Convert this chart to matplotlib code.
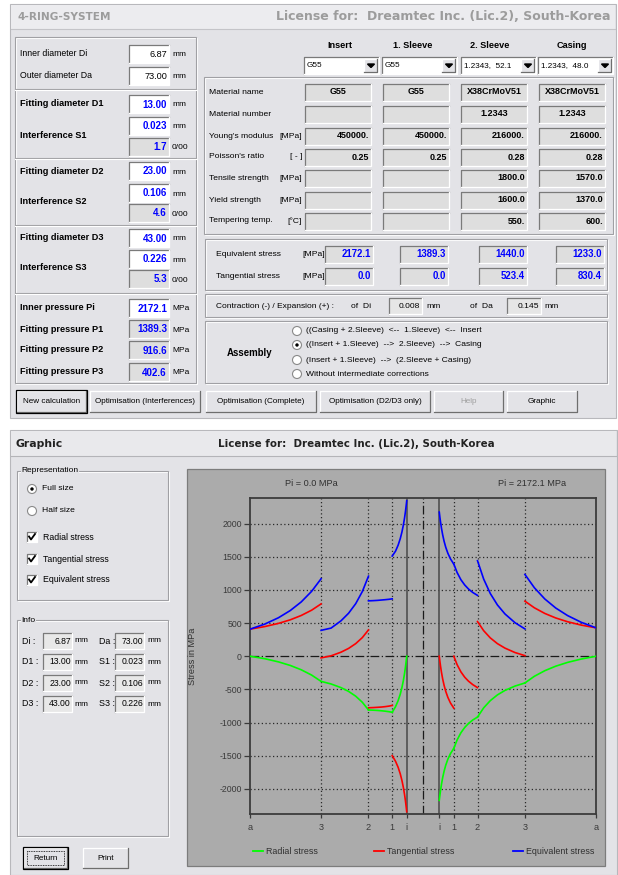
import numpy as np
import matplotlib
matplotlib.use("Agg")
import matplotlib.pyplot as plt
from matplotlib.patches import Rectangle, Circle, Polygon

plt.rcParams["font.family"] = ["Liberation Sans", "DejaVu Sans"]

# ===== INPUT / RESULT VALUES =====
di, da = 6.87, 73.00
fit_diam = [13.00, 23.00, 43.00]
interference = [0.023, 0.106, 0.226]
interf_permille = [1.7, 4.6, 5.3]
inner_pressure = 2172.1
fit_pressure = [1389.3, 916.6, 402.6]

ring_names = ["Insert", "1. Sleeve", "2. Sleeve", "Casing"]
combo_text = ["G55", "G55", "1.2343,  52.1", "1.2343,  48.0"]
mat_labels = ["Material name", "Material number", "Young's modulus", "Poisson's ratio",
              "Tensile strength", "Yield strength", "Tempering temp."]
mat_units = ["", "", "[MPa]", "[ - ]", "[MPa]", "[MPa]", "[°C]"]
mat_values = [["G55", "G55", "X38CrMoV51", "X38CrMoV51"],
              ["", "", "1.2343", "1.2343"],
              ["450000.", "450000.", "216000.", "216000."],
              ["0.25", "0.25", "0.28", "0.28"],
              ["", "", "1800.0", "1570.0"],
              ["", "", "1600.0", "1370.0"],
              ["", "", "550.", "600."]]
equiv_at_inner = [2172.1, 1389.3, 1440.0, 1233.0]
tang_at_inner = [0.0, 0.0, 523.4, 830.4]
expansion_di, expansion_da = 0.008, 0.145

# ===== STRESS CURVES (radius in mm, stress in MPa) =====
r_insert = [3.435, 3.55, 3.7, 3.9, 4.15, 4.45, 4.8, 5.25, 5.8, 6.5]
r_sleeve1 = [6.5, 7.2, 8.0, 8.8, 9.6, 10.5, 11.5]
r_sleeve2 = [11.5, 12.8, 14.2, 15.7, 17.3, 19.4, 21.5]
r_casing = [21.5, 23.5, 25.7, 28.0, 30.5, 33.4, 36.5]
r_rings = [r_insert, r_sleeve1, r_sleeve2, r_casing]

# left half: Pi = 0.0 MPa
radial_0 = [[0, -74, -162, -263, -369, -473, -572, -670, -761, -845],
            [-845, -836, -828, -822, -817, -813, -810],
            [-810, -694, -602, -530, -473, -418, -379],
            [-379, -284, -204, -139, -85, -37, 0]]
tang_0 = [[-2344, -2270, -2182, -2081, -1975, -1871, -1772, -1674, -1583, -1499],
          [-742, -752, -760, -766, -770, -774, -777],
          [397, 281, 190, 118, 61, 6, -25],
          [789, 694, 614, 549, 495, 447, 408]]
equiv_0 = [[2344, 2270, 2182, 2081, 1975, 1871, 1772, 1674, 1583, 1510],
           [865, 858, 852, 847, 842, 838, 835],
           [1207, 975, 792, 648, 534, 424, 390],
           [1168, 978, 818, 689, 580, 484, 408]]

# right half: Pi = 2172.1 MPa
radial_1 = [[-2172, -2103, -2022, -1929, -1830, -1733, -1642, -1551, -1467, -1389],
            [-1389, -1261, -1153, -1074, -1013, -961, -917],
            [-917, -778, -669, -583, -515, -450, -403],
            [-403, -302, -218, -150, -93, -42, 0]]
tang_1 = [[0, -69, -150, -244, -342, -439, -530, -621, -705, -783],
          [0, -128, -236, -316, -376, -428, -473],
          [523, 385, 276, 190, 122, 56, 9],
          [830, 730, 645, 577, 520, 469, 428]]
equiv_1 = [[2172, 2103, 2022, 1929, 1830, 1733, 1642, 1551, 1467, 1389],
           [1389, 1261, 1153, 1074, 1013, 961, 917],
           [1440, 1163, 945, 773, 637, 506, 412],
           [1233, 1032, 863, 727, 613, 511, 428]]

diam_marks = [di, fit_diam[0], fit_diam[1], fit_diam[2], da]
diam_labels = ["i", "1", "2", "3", "a"]
y_ticks = [-2000, -1500, -1000, -500, 0, 500, 1000, 1500, 2000]

BG = "#e3e3e7"
PANEL = "#ababab"
GREEN, RED, BLUE = "#00ff00", "#ff0000", "#0000ff"
FS = 6.3      # normal GUI text
FSB = 6.6     # bold GUI text

fig = plt.figure(figsize=(6.18, 8.75), dpi=100)
fig.patch.set_facecolor("white")
bg = fig.add_axes([0, 0, 1, 1])
bg.set_xlim(0, 618)
bg.set_ylim(875, 0)
bg.axis("off")


def rect(x, y, w, h, face, edge="none", lw=0.8, z=1, ls="-"):
    bg.add_patch(Rectangle((x, y), w, h, facecolor=face, edgecolor=edge, linewidth=lw, zorder=z, linestyle=ls))


def sunken(x, y, w, h, face="white"):
    rect(x, y, w, h, face)
    bg.plot([x, x, x + w], [y + h, y, y], color="#7a7a7a", lw=0.9, zorder=2)
    bg.plot([x, x + w, x + w], [y + h, y + h, y], color="#ffffff", lw=0.9, zorder=2)


def raised(x, y, w, h, default=False):
    rect(x, y, w, h, BG, z=2)
    bg.plot([x, x, x + w], [y + h, y, y], color="#ffffff", lw=0.9, zorder=3)
    bg.plot([x, x + w, x + w], [y + h, y + h, y], color="#6e6e6e", lw=0.9, zorder=3)
    if default:
        rect(x - 1, y - 1, w + 2, h + 2, "none", "#000000", 0.9, 3)


def etched(x, y, w, h):
    rect(x + 1, y + 1, w, h, "none", "#ffffff", 0.8)
    rect(x, y, w, h, "none", "#a0a0a4", 0.8)


def hsep(x0, x1, y):
    bg.plot([x0, x1], [y, y], color="#a0a0a4", lw=0.8, zorder=2)
    bg.plot([x0, x1], [y + 1, y + 1], color="#ffffff", lw=0.8, zorder=2)


def txt(x, y, s, size=FS, bold=False, color="black", ha="left", **kw):
    bg.text(x, y, s, fontsize=size, fontweight="bold" if bold else "normal",
            color=color, ha=ha, va="center", zorder=5, **kw)


def radio(x, y, on):
    bg.add_patch(Circle((x, y), 4.5, facecolor="white", edgecolor="#8a8a8a", lw=0.8, zorder=3))
    if on:
        bg.add_patch(Circle((x, y), 1.7, facecolor="black", zorder=4))


def check(x, y):
    sunken(x - 5, y - 5, 10, 10, "white")
    bg.plot([x - 3, x - 1, x + 3], [y - 0.5, y + 2.5, y - 3], color="black", lw=1.3, zorder=4)


def combo(x, y, w, h, s):
    sunken(x, y, w, h, "white")
    raised(x + w - 15, y + 2, 13, h - 4)
    cy = y + h / 2
    bg.add_patch(Polygon([[x + w - 11.5, cy - 1.5], [x + w - 4.5, cy - 1.5], [x + w - 8, cy + 2]],
                         closed=True, color="black", zorder=4))
    txt(x + 3, cy, s, size=5.9)


def button(x, y, w, h, s, default=False, disabled=False, focus=False):
    raised(x, y, w, h, default)
    txt(x + w / 2, y + h / 2, s, size=5.9, ha="center", color="#a0a0a0" if disabled else "black")
    if focus:
        rect(x + 3, y + 3, w - 6, h - 6, "none", "#000000", 0.6, 4, ls=(0, (1, 1)))


# ===== TOP WINDOW =====
rect(10, 4, 606, 414, BG, "#b8b8bc")
rect(11, 5, 604, 24, "#ececef")
bg.plot([11, 615], [29, 29], color="#c4c4c8", lw=0.8)
txt(17, 17, "4-RING-SYSTEM", size=7.6, bold=True, color="#9c9c9c", family="DejaVu Sans")
txt(611, 17, "License for:  Dreamtec Inc. (Lic.2), South-Korea", size=9.0, bold=True,
    color="#9c9c9c", ha="right", family="DejaVu Sans")

etched(15, 37, 181, 346)
for ys in [89, 158, 225, 293]:
    hsep(15, 196, ys)

BX, BW, BH = 129, 40, 18


def entry(yc, value, face="white", color="black", bold=False, unit="mm"):
    sunken(BX, yc - BH / 2, BW, BH, face)
    txt(BX + BW - 2, yc + 0.5, value, bold=bold, color=color, ha="right", size=7.0 if bold else 6.6)
    txt(BX + BW + 3, yc + 1, unit, size=6.0)


txt(20, 54, "Inner diameter Di")
entry(54, f"{di:.2f}")
txt(20, 76, "Outer diameter Da")
entry(76, f"{da:.2f}")
rows_y = [(104, 125.5, 135, 146.5), (171, 193, 202, 213), (238, 259, 268, 279)]
for k, (yd, ys, yl, yp) in enumerate(rows_y):
    txt(20, yd, f"Fitting diameter D{k + 1}", bold=True, size=FSB)
    entry(yd, f"{fit_diam[k]:.2f}", color=BLUE, bold=True)
    entry(ys, f"{interference[k]:.3f}", color=BLUE, bold=True)
    txt(20, yl, f"Interference S{k + 1}", bold=True, size=FSB)
    entry(yp, f"{interf_permille[k]:.1f}", face="#dedede", color=BLUE, bold=True, unit="0/00")
txt(20, 308, "Inner pressure Pi", bold=True, size=FSB)
entry(308, f"{inner_pressure:.1f}", color=BLUE, bold=True, unit="MPa")
for k, yc in enumerate([329, 350, 372]):
    txt(20, yc, f"Fitting pressure P{k + 1}", bold=True, size=FSB)
    entry(yc, f"{fit_pressure[k]:.1f}", face="#dedede", color=BLUE, bold=True, unit="MPa")

# material columns
col_head_x = [340, 413, 490, 572]
combo_x = [304, 382, 461, 538]
for k in range(4):
    txt(col_head_x[k], 46, ring_names[k], bold=True, ha="center", size=FSB)
    combo(combo_x[k], 57, 75, 17, combo_text[k])

etched(204, 77, 409, 157)
cell_x = [305, 383, 461, 539]
row_y = [92, 114, 136, 157, 178, 200, 221]
for i, yc in enumerate(row_y):
    txt(209, yc, mat_labels[i], size=6.1)
    txt(302, yc, mat_units[i], size=6.1, ha="right")
    for k in range(4):
        sunken(cell_x[k], yc - 8.5, 66, 17, "#dedede")
        v = mat_values[i][k]
        if i < 2:
            txt(cell_x[k] + 33, yc, v, bold=True, ha="center", size=6.5)
        else:
            txt(cell_x[k] + 64, yc, v, bold=True, ha="right", size=6.5)

etched(205, 239, 402, 51)
st_x = [325, 400, 479, 556]
for yc, lab, vals in [(254, "Equivalent stress", equiv_at_inner), (276, "Tangential stress", tang_at_inner)]:
    txt(216, yc, lab, size=6.1)
    txt(302, yc, "[MPa]", size=6.1)
    for k in range(4):
        sunken(st_x[k], yc - 8.5, 48, 17, "#dedede")
        txt(st_x[k] + 46, yc, f"{vals[k]:.1f}", bold=True, color=BLUE, ha="right", size=6.9)

etched(205, 294, 402, 23)
txt(216, 306, "Contraction (-) / Expansion (+) :", size=6.0)
txt(351, 306, "of  Di", size=6.1)
sunken(389, 298, 33, 16, "#e6e6e6")
txt(420, 306, f"{expansion_di:.3f}", ha="right", size=6.1)
txt(426, 306, "mm", size=6.1)
txt(470, 306, "of  Da", size=6.1)
sunken(507, 298, 34, 16, "#e6e6e6")
txt(539, 306, f"{expansion_da:.3f}", ha="right", size=6.1)
txt(544, 306, "mm", size=6.1)

etched(205, 321, 402, 62)
txt(250, 353, "Assembly", bold=True, ha="center", size=6.9)
assembly_opts = ["((Casing + 2.Sleeve)  <--  1.Sleeve)  <--  Insert",
                 "((Insert + 1.Sleeve)  -->  2.Sleeve)  -->  Casing",
                 "(Insert + 1.Sleeve)  -->  (2.Sleeve + Casing)",
                 "Without intermediate corrections"]
for k, yc in enumerate([331, 345, 360, 374]):
    radio(297, yc, k == 1)
    txt(306, yc, assembly_opts[k], size=6.1)

button(17, 391, 69, 21, "New calculation", default=True)
button(90, 391, 110, 21, "Optimisation (Interferences)")
button(206, 391, 110, 21, "Optimisation (Complete)")
button(320, 391, 110, 21, "Optimisation (D2/D3 only)")
button(434, 391, 69, 21, "Help", disabled=True)
button(507, 391, 70, 21, "Graphic")

# ===== BOTTOM WINDOW =====
rect(10, 430, 607, 445, BG, "#b8b8bc")
rect(11, 431, 605, 25, "#e9e9ec")
bg.plot([11, 616], [456, 456], color="#b4b4b8", lw=0.8)
txt(15, 444, "Graphic", size=7.8, bold=True, color="#222222", family="DejaVu Sans")
txt(356, 444, "License for:  Dreamtec Inc. (Lic.2), South-Korea", size=7.4, bold=True,
    color="#222222", ha="center", family="DejaVu Sans")

etched(17, 471, 151, 129)
txt(21, 471, "Representation", size=6.0, bbox=dict(facecolor=BG, edgecolor="none", pad=0.3))
radio(32, 489, True)
txt(42, 489, "Full size", size=6.1)
radio(32, 511, False)
txt(42, 511, "Half size", size=6.1)
for yc, lab in [(537, "Radial stress"), (559, "Tangential stress"), (580, "Equivalent stress")]:
    check(32, yc)
    txt(43, yc, lab, size=6.3)

etched(17, 620, 151, 216)
txt(21, 620, "Info", size=6.0, bbox=dict(facecolor=BG, edgecolor="none", pad=0.3))
info_left = [("Di :", di, "{:.2f}"), ("D1 :", fit_diam[0], "{:.2f}"),
             ("D2 :", fit_diam[1], "{:.2f}"), ("D3 :", fit_diam[2], "{:.2f}")]
info_right = [("Da :", da, "{:.2f}"), ("S1 :", interference[0], "{:.3f}"),
              ("S2 :", interference[1], "{:.3f}"), ("S3 :", interference[2], "{:.3f}")]
for k, yc in enumerate([641, 662, 683, 704]):
    lab, v, f = info_left[k]
    txt(22, yc, lab, size=6.4)
    sunken(43, yc - 8, 29, 16, "#e8e8e8")
    txt(71, yc, f.format(v), ha="right", size=6.2)
    txt(74, yc, "mm", size=6.0)
    lab, v, f = info_right[k]
    txt(99, yc, lab, size=6.4)
    sunken(115, yc - 8, 29, 16, "#e8e8e8")
    txt(143, yc, f.format(v), ha="right", size=6.2)
    txt(147, yc, "mm", size=6.0)

button(24, 848, 43, 20, "Return", default=True, focus=True)
button(83, 848, 45, 20, "Print")

# chart panel
rect(187, 469, 418, 397, PANEL, "#7c7c7c", 0.9)
txt(311, 484, "Pi = 0.0 MPa", size=6.6, ha="center", color="#303030")
txt(532, 484, "Pi = 2172.1 MPa", size=6.6, ha="center", color="#303030")

ax = fig.add_axes([250 / 618, (875 - 814) / 875, 346 / 618, 316 / 875])
ax.set_facecolor(PANEL)
ax.set_xlim(-da / 2, da / 2)
ax.set_ylim(-2378, 2385)

dot = (0, (1, 2))
for d in fit_diam:
    ax.axvline(-d / 2, color="#2a2a2a", lw=0.9, ls=dot, zorder=1)
    ax.axvline(d / 2, color="#2a2a2a", lw=0.9, ls=dot, zorder=1)
for yt in y_ticks:
    if yt != 0:
        ax.axhline(yt, color="#2a2a2a", lw=0.9, ls=dot, zorder=1)
ax.axhline(0, color="#1a1a1a", lw=0.9, ls=(0, (7, 2, 1, 2)), zorder=1)
ax.axvline(0, color="#1a1a1a", lw=0.9, ls=(0, (7, 2, 1, 2)), zorder=1)
ax.axvline(-di / 2, color="#505050", lw=1.2, zorder=1)
ax.axvline(di / 2, color="#505050", lw=1.2, zorder=1)

for k in range(4):
    r = np.array(r_rings[k])
    ax.plot(-r, radial_0[k], color=GREEN, lw=1.2, zorder=3)
    ax.plot(-r, tang_0[k], color=RED, lw=1.2, zorder=3)
    ax.plot(-r, equiv_0[k], color=BLUE, lw=1.2, zorder=3)
    ax.plot(r, radial_1[k], color=GREEN, lw=1.2, zorder=3)
    ax.plot(r, tang_1[k], color=RED, lw=1.2, zorder=3)
    ax.plot(r, equiv_1[k], color=BLUE, lw=1.2, zorder=3)

xt = [-d / 2 for d in diam_marks[::-1]] + [d / 2 for d in diam_marks]
xl = diam_labels[::-1] + diam_labels
ax.set_xticks(xt)
ax.set_xticklabels(xl)
ax.set_yticks(y_ticks)
ax.set_yticklabels([str(v) for v in y_ticks])
ax.tick_params(axis="y", direction="out", length=4.3, width=0.9, colors="#3a3a3a", labelsize=6.3, pad=1.5)
ax.tick_params(axis="x", direction="out", length=3, width=0.9, colors="#3a3a3a", labelsize=6.6, pad=3.5)
for s in ax.spines.values():
    s.set_color("#3c3c3c")
    s.set_linewidth(1.3)
ax.set_ylabel("Stress in MPa", fontsize=6.6, color="#303030")
ax.yaxis.set_label_coords(-(250 - 197) / 346, 0.5)

# legend
for x0, col, lab in [(253, GREEN, "Radial stress"), (374, RED, "Tangential stress"), (513, BLUE, "Equivalent stress")]:
    bg.plot([x0, x0 + 10], [851, 851], color=col, lw=1.3, zorder=5)
    txt(x0 + 13, 851, lab, size=6.4, color="#303030")

fig.savefig("out.png", dpi=100, facecolor=fig.get_facecolor())
